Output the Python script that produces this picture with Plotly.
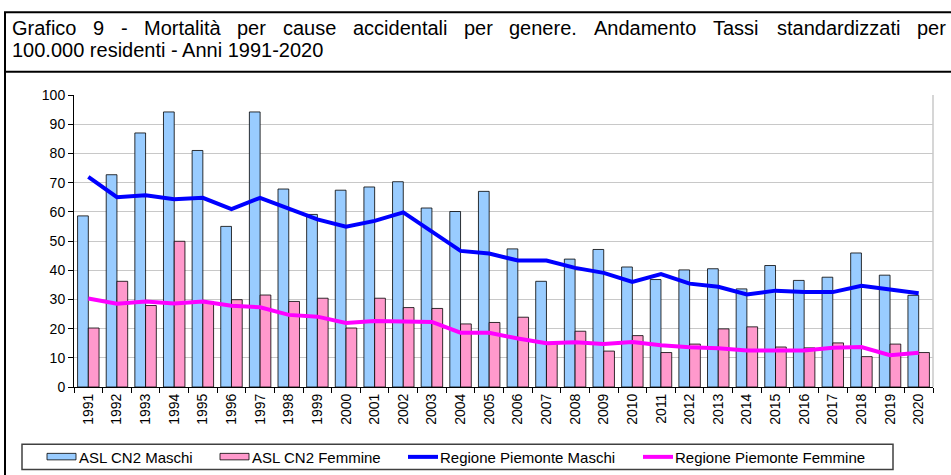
import plotly.graph_objects as go

years = [str(y) for y in range(1991, 2021)]
asl_maschi = [58.6, 72.7, 87.0, 94.2, 81.0, 55.0, 94.2, 67.8, 59.1, 67.4,
              68.5, 70.3, 61.3, 60.1, 67.0, 47.3, 36.2, 43.8, 47.1, 41.1,
              36.8, 40.1, 40.5, 33.6, 41.6, 36.5, 37.6, 45.9, 38.3, 31.4]
asl_femmine = [20.2, 36.2, 27.9, 49.9, 29.3, 29.9, 31.5, 29.3, 30.4, 20.2,
               30.4, 27.2, 26.9, 21.6, 22.1, 23.9, 15.1, 19.1, 12.3, 17.6,
               11.8, 14.7, 19.9, 20.6, 13.7, 13.4, 15.1, 10.4, 14.7, 11.8]
reg_maschi = [72.0, 65.0, 65.7, 64.3, 64.8, 60.9, 64.8, 61.1, 57.4, 54.9,
              56.9, 59.8, 53.4, 46.6, 45.7, 43.3, 43.3, 40.8, 39.1, 36.0,
              38.7, 35.4, 34.3, 31.7, 33.0, 32.5, 32.5, 34.7, 33.4, 32.1]
reg_femmine = [30.3, 28.5, 29.3, 28.6, 29.3, 27.8, 27.3, 24.7, 24.1, 21.9,
               22.6, 22.6, 22.3, 18.6, 18.6, 16.6, 15.0, 15.3, 14.7, 15.4,
               14.3, 13.6, 13.3, 12.5, 12.5, 12.5, 13.4, 13.7, 10.9, 11.7]

series_names = ["ASL CN2 Maschi", "ASL CN2 Femmine",
                "Regione Piemonte Maschi", "Regione Piemonte Femmine"]
title_line1 = ["Grafico", "9", "-", "Mortalità", "per", "cause", "accidentali",
               "per", "genere.", "Andamento", "Tassi", "standardizzati", "per"]
title_line2 = "100.000 residenti - Anni 1991-2020"

FONT = "Liberation Sans, Arial, Helvetica, sans-serif"
W, H = 951, 475
L, R, T, B = 74, 933, 95, 386.7


def px(x):
    return (x - L) / (R - L)


def py(y):
    return (B - y) / (B - T)


fig = go.Figure()
fig.add_trace(go.Bar(x=years, y=asl_maschi, name=series_names[0],
                     marker=dict(color="#99CCFF", line=dict(color="#000000", width=0.8))))
fig.add_trace(go.Bar(x=years, y=asl_femmine, name=series_names[1],
                     marker=dict(color="#FF99CC", line=dict(color="#000000", width=0.8))))
fig.add_trace(go.Scatter(x=years, y=reg_maschi, name=series_names[2], mode="lines",
                         line=dict(color="#0000FF", width=4)))
fig.add_trace(go.Scatter(x=years, y=reg_femmine, name=series_names[3], mode="lines",
                         line=dict(color="#FF00FF", width=4)))

shapes = []
annotations = []

# outer frame and title separator
shapes.append(dict(type="rect", xref="paper", yref="paper",
                   x0=px(5), x1=px(965), y0=py(12.3), y1=py(490),
                   line=dict(color="#000000", width=2), fillcolor="rgba(0,0,0,0)", layer="below"))
shapes.append(dict(type="line", xref="paper", yref="paper",
                   x0=px(5), x1=px(965), y0=py(71.7), y1=py(71.7),
                   line=dict(color="#000000", width=2)))
# right plot border
shapes.append(dict(type="line", xref="paper", yref="paper",
                   x0=1, x1=1, y0=0, y1=1, line=dict(color="#C8C8C8", width=1.5)))

# justified first title line
aw = {"G": 778, "r": 333, "a": 556, "f": 278, "i": 222, "c": 500, "o": 556, "9": 556,
      "-": 333, "M": 833, "t": 278, "à": 556, "l": 222, "p": 556, "e": 556, "u": 556,
      "s": 500, "d": 556, "n": 556, "g": 556, ".": 278, "A": 667, "m": 833, "T": 611, "z": 500}
tsize = 20
t_start, t_end = 11, 945
widths = [sum(aw.get(ch, 556) for ch in w) * tsize / 1000 for w in title_line1]
gap = (t_end - t_start - sum(widths)) / (len(title_line1) - 1)
xpos = t_start
for w, wd in zip(title_line1, widths):
    annotations.append(dict(text=w, xref="paper", yref="paper", x=px(xpos), y=py(28),
                            xanchor="left", yanchor="middle", showarrow=False, borderpad=0,
                            font=dict(family=FONT, size=tsize, color="#000000")))
    xpos += wd + gap
annotations.append(dict(text=title_line2, xref="paper", yref="paper", x=px(t_start), y=py(50),
                        xanchor="left", yanchor="middle", showarrow=False, borderpad=0,
                        font=dict(family=FONT, size=tsize, color="#000000")))

# legend box
shapes.append(dict(type="rect", xref="paper", yref="paper",
                   x0=px(22), x1=px(893), y0=py(444), y1=py(469),
                   line=dict(color="#404040", width=1.5), fillcolor="#FFFFFF"))
leg_x = [47, 220, 408, 643]
for i, name in enumerate(series_names):
    x0 = leg_x[i]
    if i < 2:
        col = "#99CCFF" if i == 0 else "#FF99CC"
        shapes.append(dict(type="rect", xref="paper", yref="paper",
                           x0=px(x0), x1=px(x0 + 29), y0=py(453), y1=py(459.5),
                           line=dict(color="#000000", width=0.8), fillcolor=col))
    else:
        col = "#0000FF" if i == 2 else "#FF00FF"
        shapes.append(dict(type="line", xref="paper", yref="paper",
                           x0=px(x0), x1=px(x0 + 30), y0=py(456.5), y1=py(456.5),
                           line=dict(color=col, width=4)))
    annotations.append(dict(text=name, xref="paper", yref="paper", x=px(x0 + 30), y=py(457),
                            xanchor="left", yanchor="middle", showarrow=False,
                            font=dict(family=FONT, size=15, color="#000000")))

fig.update_layout(
    width=W, height=H,
    margin=dict(l=L, r=W - R, t=T, b=H - B, pad=0),
    paper_bgcolor="#FFFFFF", plot_bgcolor="#FFFFFF",
    barmode="group", bargap=0.25, bargroupgap=0,
    showlegend=False,
    font=dict(family=FONT, size=14, color="#000000"),
    shapes=shapes, annotations=annotations,
    xaxis=dict(type="category", tickangle=-90, showline=True, linecolor="#000000", linewidth=1,
               ticks="outside", tickson="boundaries", ticklen=5, tickcolor="#000000",
               showgrid=False, automargin=False,
               tickfont=dict(family=FONT, size=14, color="#000000")),
    yaxis=dict(range=[0, 100], dtick=10, showline=True, linecolor="#000000", linewidth=1,
               ticks="outside", ticklen=5, tickcolor="#000000", automargin=False,
               showgrid=True, gridcolor="#C8C8C8", gridwidth=1.3, zeroline=False,
               tickfont=dict(family=FONT, size=14, color="#000000")),
)

fig.write_html("out.html", config={"displayModeBar": False},
               post_script="document.body.style.margin='0px';document.body.style.overflow='hidden';")
